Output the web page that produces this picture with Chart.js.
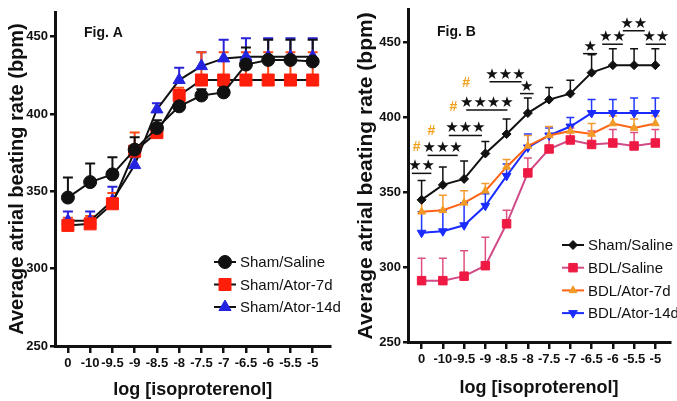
<!DOCTYPE html>
<html>
<head>
<meta charset="utf-8">
<script src="https://cdn.jsdelivr.net/npm/chart.js@4/dist/chart.umd.min.js"></script>
<style>
  html, body { margin: 0; padding: 0; background: #fff; }
  #wrap { position: relative; width: 677px; height: 401px; overflow: hidden; }
  .panel { position: absolute; top: 0; }
  #panelA { left: 0; }
  #panelB { left: 340px; }
</style>
</head>
<body>
<div id="wrap">
  <div class="panel" id="panelA"><canvas id="chartA" width="340" height="401"></canvas></div>
  <div class="panel" id="panelB"><canvas id="chartB" width="337" height="401"></canvas></div>
</div>
<script>
window.addEventListener("load", init);

// x categories (log dose) and y tick values
const doses = ['0', '-10', '-9.5', '-9', '-8.5', '-8', '-7.5', '-7', '-6.5', '-6', '-5.5', '-5'];
const yTicks = [250, 300, 350, 400, 450];

// Fig. A (mean, upper SEM)
const shamSalineA = [346, 356, 361, 377, 391, 405, 412, 414, 432, 435, 435, 434];
const shamSalineErrA = [13, 12, 11, 8, 5, 4, 4, 4, 11, 13, 13, 14];
const shamAtor7A = [328, 329, 342, 376, 388, 412, 422, 422, 422, 422, 422, 422];
const shamAtor7ErrA = [5, 5, 7, 12, 4, 5, 18, 18, 18, 18, 18, 18];
const shamAtor14A = [331, 331, 344, 367, 403, 422, 431, 436, 437, 437, 437, 437];
const shamAtor14ErrA = [6, 6, 9, 5, 4, 8, 9, 12, 12, 12, 12, 12];

// Fig. B (mean, upper SEM)
const shamSalineB = [345, 355, 359, 376, 389, 403, 412, 416, 430, 435, 435, 435];
const shamSalineErrB = [13, 12, 12, 8, 10, 10, 8, 9, 12, 11, 11, 11];
const bdlSalineB = [291, 291, 294, 301, 329, 363, 379, 385, 382, 383, 381, 383];
const bdlSalineErrB = [15, 15, 17, 19, 9, 10, 8, 8, 9, 9, 9, 9];
const bdlAtor7B = [337, 338, 343, 351, 367, 381, 388, 391, 389, 396, 393, 396];
const bdlAtor7ErrB = [8, 10, 8, 5, 5, 7, 6, 4, 7, 5, 6, 5];
const bdlAtor14B = [323, 324, 328, 341, 361, 380, 388, 394, 403, 403, 403, 403];
const bdlAtor14ErrB = [14, 14, 15, 8, 8, 9, 5, 6, 9, 9, 10, 10];

// significance marks in Fig. B: text, bar from/to (x index), bar level (bpm)
const sigText = ['★★', '★★★', '★★★', '★★★★', '★★★', '★', '★', '★★', '★★', '★★'];
const sigFrom = [-0.46, 0.28, 1.28, 2.1, 3.2, 4.63, 7.6, 8.5, 9.47, 10.55];
const sigTo = [0.46, 1.7, 2.84, 4.04, 4.7, 5.27, 8.26, 9.47, 10.5, 11.5];
const sigAt = [362.7, 374.7, 388, 405, 424, 416, 442.7, 449, 458, 449];
const hashX = [-0.23, 0.46, 1.5, 2.1];
const hashY = [380, 391, 406.7, 423];

const FONT = '"Liberation Sans", Arial, sans-serif';

function toPoints(values) {
  return values.map((v, i) => ({ x: i, y: v }));
}

const errorBars = {
  id: 'errorBars',
  beforeDatasetsDraw(chart, args, opts) {
    const ctx = chart.ctx;
    const xs = chart.scales.x, ys = chart.scales.y;
    ctx.save();
    ctx.lineWidth = opts.lineWidth;
    chart.data.datasets.slice().reverse().forEach(ds => {
      if (!ds.errors) return;
      ctx.strokeStyle = ds.errorColor;
      ds.data.forEach((pt, i) => {
        const x = xs.getPixelForValue(pt.x);
        const y0 = ys.getPixelForValue(pt.y);
        const y1 = ys.getPixelForValue(pt.y + ds.errors[i]);
        ctx.beginPath();
        ctx.moveTo(x, y0);
        ctx.lineTo(x, y1);
        ctx.moveTo(x - opts.capWidth, y1);
        ctx.lineTo(x + opts.capWidth, y1);
        ctx.stroke();
      });
    });
    ctx.restore();
  }
};

const insideLegend = {
  id: 'insideLegend',
  afterDraw(chart, args, opts) {
    const ctx = chart.ctx;
    ctx.save();
    ctx.font = opts.font;
    ctx.textBaseline = 'middle';
    chart.data.datasets.forEach((ds, i) => {
      const y = opts.y + i * opts.rowHeight;
      ctx.strokeStyle = ds.borderColor;
      ctx.lineWidth = ds.borderWidth;
      ctx.beginPath();
      ctx.moveTo(opts.x - opts.lineLength / 2, y);
      ctx.lineTo(opts.x + opts.lineLength / 2, y);
      ctx.stroke();
      ctx.fillStyle = ds.pointBackgroundColor;
      ctx.strokeStyle = ds.pointBorderColor;
      ctx.lineWidth = ds.pointBorderWidth;
      Chart.helpers.drawPoint(ctx, {
        pointStyle: ds.pointStyle,
        radius: ds.pointRadius,
        rotation: ds.pointRotation || 0,
        borderWidth: ds.pointBorderWidth
      }, opts.x, y);
      ctx.fillStyle = '#111';
      ctx.fillText(ds.label, opts.x + opts.textGap, y + 1);
    });
    ctx.restore();
  }
};

const figLabel = {
  id: 'figLabel',
  afterDraw(chart, args, opts) {
    const ctx = chart.ctx;
    ctx.save();
    ctx.font = 'bold 14px ' + FONT;
    ctx.fillStyle = '#111';
    ctx.textBaseline = 'middle';
    ctx.fillText(opts.text, opts.x, opts.y);
    ctx.restore();
  }
};

const sigMarks = {
  id: 'sigMarks',
  afterDatasetsDraw(chart, args, opts) {
    if (!opts.show) return;
    const ctx = chart.ctx;
    const xs = chart.scales.x, ys = chart.scales.y;
    ctx.save();
    ctx.strokeStyle = '#111';
    ctx.fillStyle = '#111';
    ctx.lineWidth = 1.5;
    ctx.textAlign = 'center';
    ctx.textBaseline = 'alphabetic';
    ctx.font = 'bold 15px "DejaVu Sans", sans-serif';
    sigText.forEach((t, i) => {
      const x1 = xs.getPixelForValue(sigFrom[i]);
      const x2 = xs.getPixelForValue(sigTo[i]);
      const y = ys.getPixelForValue(sigAt[i]);
      ctx.beginPath();
      ctx.moveTo(x1, y);
      ctx.lineTo(x2, y);
      ctx.stroke();
      ctx.fillText(t, (x1 + x2) / 2, y - 3);
    });
    ctx.fillStyle = '#f2a11f';
    ctx.font = 'bold 14px ' + FONT;
    ctx.textBaseline = 'middle';
    hashX.forEach((hx, i) => {
      ctx.fillText('#', xs.getPixelForValue(hx), ys.getPixelForValue(hashY[i]));
    });
    ctx.restore();
  }
};

function axisStyle(tickLength) {
  return {
    grid: { drawOnChartArea: false, drawTicks: true, tickLength: tickLength, color: '#111', lineWidth: 2.5 },
    border: { color: '#111', width: 3 }
  };
}

function makeChart(id, p) {
  const tickFont = { family: FONT, size: 13, weight: 'bold' };
  return new Chart(qs(id).getContext('2d'), {
    type: 'line',
    data: { datasets: p.datasets },
    options: {
      responsive: false,
      animation: false,
      layout: { padding: { top: p.top, right: p.right, left: 0, bottom: 0 } },
      scales: {
        x: Object.assign({
          type: 'linear',
          min: p.xMin,
          max: p.xMax,
          afterBuildTicks: axis => { axis.ticks = doses.map((d, i) => ({ value: i })); },
          afterFit: s => { s.height = p.xHeight; },
          ticks: { autoSkip: false, maxRotation: 0, minRotation: 0, padding: 3, color: '#111', font: tickFont,
                   callback: v => doses[v] },
          title: { display: true, text: 'log [isoproterenol]', color: '#111',
                   font: { family: FONT, size: 18, weight: 'bold', lineHeight: 1.2 },
                   padding: { top: 0, bottom: p.xTitlePad } }
        }, axisStyle(7)),
        y: Object.assign({
          min: 250,
          max: p.yMax,
          afterBuildTicks: axis => { axis.ticks = yTicks.map(v => ({ value: v })); },
          afterFit: s => { s.width = p.yWidth; },
          ticks: { padding: 2, color: '#111', font: tickFont },
          title: { display: true, text: 'Average atrial beating rate (bpm)', color: '#111',
                   font: { family: FONT, size: p.yTitleSize, weight: 'bold', lineHeight: 1.2 },
                   padding: { top: p.yTitlePad, bottom: 0 } }
        }, axisStyle(5))
      },
      plugins: {
        legend: { display: false },
        tooltip: { enabled: false },
        errorBars: { lineWidth: p.errWidth, capWidth: p.capWidth },
        insideLegend: p.legend,
        figLabel: p.fig,
        sigMarks: { show: p.sig }
      }
    },
    plugins: [errorBars, insideLegend, figLabel, sigMarks]
  });
}

function init() {
  makeChart('#chartA', {
    top: 12, right: 7, xMin: -0.58, xMax: 11.8, yMax: 466, xHeight: 55, yWidth: 55,
    yTitleSize: 20, yTitlePad: 5, xTitlePad: 0, errWidth: 2, capWidth: 5, sig: false,
    fig: { text: 'Fig. A', x: 84, y: 33 },
    legend: { x: 225, y: 262, rowHeight: 22.5, lineLength: 22, textGap: 15, font: '15px ' + FONT },
    datasets: [
      { label: 'Sham/Saline', data: toPoints(shamSalineA), errors: shamSalineErrA, errorColor: '#111',
        borderColor: '#111', borderWidth: 2, pointStyle: 'circle', pointRadius: 6.5,
        pointBackgroundColor: '#111', pointBorderColor: '#111', pointBorderWidth: 1 },
      { label: 'Sham/Ator-7d', data: toPoints(shamAtor7A), errors: shamAtor7ErrA, errorColor: '#ff4a14',
        borderColor: '#111', borderWidth: 2, pointStyle: 'rect', pointRadius: 8.5,
        pointBackgroundColor: '#ff1e0a', pointBorderColor: '#ff1e0a', pointBorderWidth: 1 },
      { label: 'Sham/Ator-14d', data: toPoints(shamAtor14A), errors: shamAtor14ErrA, errorColor: '#2a22d8',
        borderColor: '#111', borderWidth: 2, pointStyle: 'triangle', pointRadius: 7,
        pointBackgroundColor: '#2424e0', pointBorderColor: '#2424e0', pointBorderWidth: 1 }
    ]
  });

  makeChart('#chartB', {
    top: 8, right: 0, xMin: -0.64, xMax: 11.69, yMax: 472, xHeight: 59, yWidth: 68,
    yTitleSize: 21, yTitlePad: 14, xTitlePad: 2, errWidth: 1.5, capWidth: 4, sig: true,
    fig: { text: 'Fig. B', x: 97, y: 32 },
    legend: { x: 233, y: 245, rowHeight: 22.7, lineLength: 22, textGap: 15, font: '15px ' + FONT },
    datasets: [
      { label: 'Sham/Saline', data: toPoints(shamSalineB), errors: shamSalineErrB, errorColor: '#111',
        borderColor: '#111', borderWidth: 2, pointStyle: 'rectRot', pointRadius: 4.5,
        pointBackgroundColor: '#111', pointBorderColor: '#111', pointBorderWidth: 1 },
      { label: 'BDL/Saline', data: toPoints(bdlSalineB), errors: bdlSalineErrB, errorColor: '#e0507e',
        borderColor: '#d24a86', borderWidth: 2, pointStyle: 'rect', pointRadius: 6,
        pointBackgroundColor: '#ee1a44', pointBorderColor: '#ee1a44', pointBorderWidth: 1 },
      { label: 'BDL/Ator-7d', data: toPoints(bdlAtor7B), errors: bdlAtor7ErrB, errorColor: '#f59a30',
        borderColor: '#ff6414', borderWidth: 2, pointStyle: 'triangle', pointRadius: 4.5,
        pointBackgroundColor: '#f29a26', pointBorderColor: '#f29a26', pointBorderWidth: 1 },
      { label: 'BDL/Ator-14d', data: toPoints(bdlAtor14B), errors: bdlAtor14ErrB, errorColor: '#2236ff',
        borderColor: '#1a2cff', borderWidth: 2, pointStyle: 'triangle', pointRotation: 180, pointRadius: 5,
        pointBackgroundColor: '#1a2cff', pointBorderColor: '#1a2cff', pointBorderWidth: 1 }
    ]
  });
}

function qs(selector) {
  return document.querySelector(selector);
}
</script>
</body>
</html>
